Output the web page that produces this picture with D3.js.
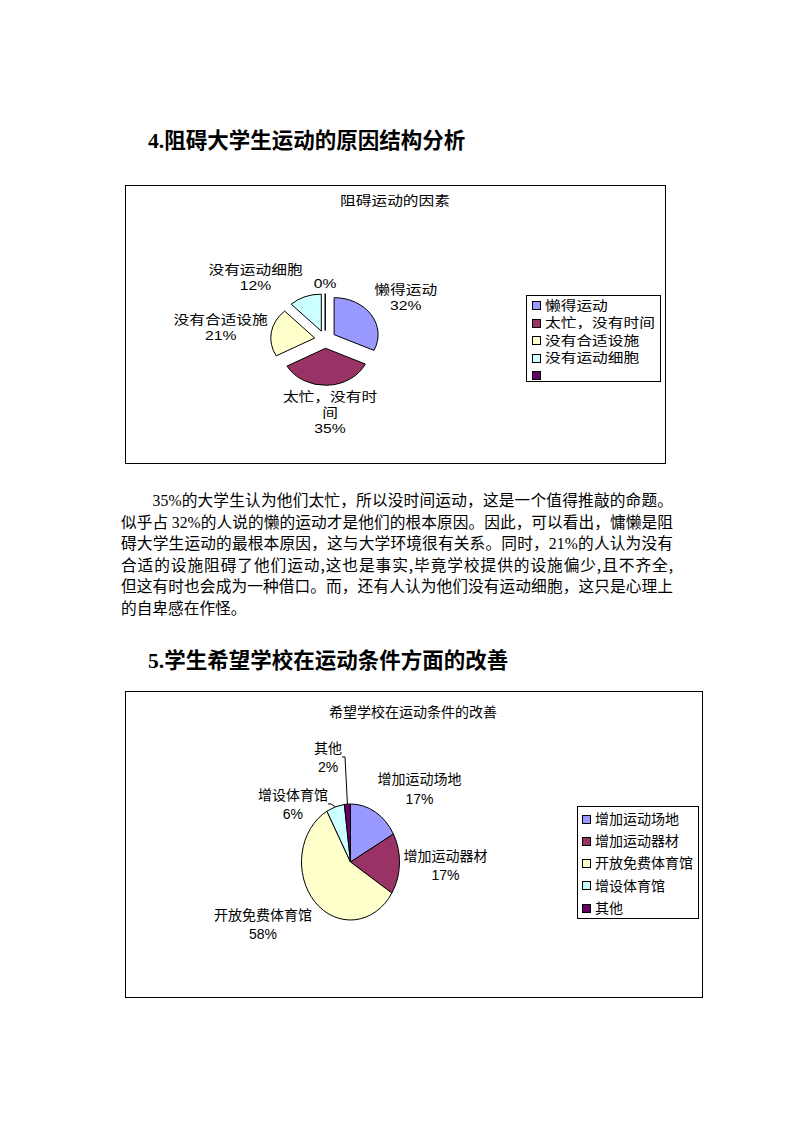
<!DOCTYPE html>
<html><head><meta charset="utf-8">
<script src="https://cdn.jsdelivr.net/npm/d3@7"></script>
<style>html,body{margin:0;padding:0;background:#fff}svg{display:block}</style>
</head><body>
<svg id="page" width="794" height="1123"></svg>
<script>
// ---------------- DATA ----------------
const heading4Num = "4.";
const heading4Text = "阻碍大学生运动的原因结构分析";
const heading5Num = "5.";
const heading5Text = "学生希望学校在运动条件方面的改善";

const paragraphLines = [
  "35%的大学生认为他们太忙，所以没时间运动，这是一个值得推敲的命题。",
  "似乎占 32%的人说的懒的运动才是他们的根本原因。因此，可以看出，慵懒是阻",
  "碍大学生运动的最根本原因，这与大学环境很有关系。同时，21%的人认为没有",
  "合适的设施阻碍了他们运动,这也是事实,毕竟学校提供的设施偏少,且不齐全,",
  "但这有时也会成为一种借口。而，还有人认为他们没有运动细胞，这只是心理上",
  "的自卑感在作怪。"
];

const chart1Title = "阻碍运动的因素";
const chart1Categories = ["懒得运动", "太忙，没有时间", "没有合适设施", "没有运动细胞", ""];
const chart1Values = [32, 35, 21, 12, 0];

const chart2Title = "希望学校在运动条件的改善";
const chart2Categories = ["增加运动场地", "增加运动器材", "开放免费体育馆", "增设体育馆", "其他"];
const chart2Values = [17, 17, 58, 6, 2];

const sliceColors = ["#9999FF", "#993366", "#FFFFCC", "#CCFFFF", "#660066"];

// ---------------- LAYOUT ----------------
const CJK = "'Noto Sans CJK SC','Noto Sans',sans-serif";
const CHART_FONT = "'Liberation Sans','Noto Sans CJK SC',sans-serif";
const SERIF = "'Liberation Serif','DejaVu Serif',serif";
const svg = d3.select("#page");

function heading(x, y, num, text) {
  const t = svg.append("text").attr("x", x).attr("y", y)
    .attr("font-size", 21.5).attr("font-weight", "bold").attr("fill", "#000");
  t.append("tspan").attr("font-family", SERIF).text(num);
  t.append("tspan").attr("font-family", CJK).text(text);
}
heading(148, 148, heading4Num, heading4Text);
heading(148, 668, heading5Num, heading5Text);

// paragraph
(function () {
  const fs = 15.7, left = 121, right = 673, y0 = 506, lh = 21.6;
  paragraphLines.forEach((line, i) => {
    const x = i === 0 ? left + 2 * fs : left;
    const t = svg.append("text").attr("x", x).attr("y", y0 + i * lh)
      .attr("font-size", fs).attr("fill", "#000");
    line.split(/(\d+%)/).filter(s => s).forEach(seg => {
      t.append("tspan").attr("font-family", /^\d+%$/.test(seg) ? SERIF : CJK).text(seg);
    });
    if (i < paragraphLines.length - 1) {
      const natural = t.node().getComputedTextLength();
      const n = Array.from(line).length;
      t.attr("letter-spacing", (right - x - natural) / (n - 1));
    }
  });
})();

function wrap(str, maxChars) {
  if (!str) return [];
  const chars = Array.from(str), out = [];
  for (let i = 0; i < chars.length; i += maxChars) out.push(chars.slice(i, i + maxChars).join(""));
  return out;
}

function drawPie(cfg) {
  const g = svg.append("g");
  const [bx0, by0, bx1, by1] = cfg.box;
  g.append("rect").attr("x", bx0 + 0.5).attr("y", by0 + 0.5)
    .attr("width", bx1 - bx0).attr("height", by1 - by0)
    .attr("fill", "#fff").attr("stroke", "#000").attr("stroke-width", 1);

  g.append("text").attr("transform", `translate(${cfg.titlePos[0]},${cfg.titlePos[1] + cfg.fs * 0.38}) scale(${cfg.textSX},1)`)
    .attr("text-anchor", "middle")
    .attr("font-family", CHART_FONT).attr("font-size", cfg.fs).attr("fill", "#000").text(cfg.title);

  const color = d3.scaleOrdinal().domain(d3.range(cfg.values.length)).range(sliceColors);
  const arcs = d3.pie().sort(null).value(d => d)(cfg.values);
  const R = 100;
  const arc = d3.arc().innerRadius(0).outerRadius(R);
  const total = d3.sum(cfg.values);

  const origins = arcs.map(p => {
    const mid = (p.startAngle + p.endAngle) / 2;
    return [cfg.cx + Math.sin(mid) * cfg.explode * cfg.rx, cfg.cy - Math.cos(mid) * cfg.explode * cfg.ry, mid];
  });

  arcs.forEach((p, i) => {
    const [ox, oy] = origins[i];
    g.append("path").attr("d", arc(p))
      .attr("transform", `translate(${ox},${oy}) scale(${cfg.rx / R},${cfg.ry / R})`)
      .attr("fill", color(i)).attr("stroke", "#000").attr("stroke-width", 1)
      .attr("vector-effect", "non-scaling-stroke");
  });

  // data labels (one text element per label, lines as tspans)
  arcs.forEach((p, i) => {
    const [ox, oy, mid] = origins[i];
    const pct = Math.round(p.value / total * 100) + "%";
    const lines = wrap(cfg.categories[i], cfg.maxChars).concat([pct]);
    const t = g.append("text").attr("text-anchor", "middle")
      .attr("font-family", CHART_FONT).attr("font-size", cfg.fs).attr("fill", "#000");
    const spans = lines.map((ln, j) => t.append("tspan").attr("x", 0)
      .attr("y", (j - (lines.length - 1) / 2) * cfg.lh + cfg.fs * 0.38).text(ln));
    const w = d3.max(spans, s => s.node().getComputedTextLength()) * cfg.textSX;
    const h = lines.length * cfg.lh;
    const s = Math.sin(mid), c = Math.cos(mid);
    const ax = ox + s * cfg.rx * (1 + cfg.gap), ay = oy - c * cfg.ry * (1 + cfg.gap);
    const fx = Math.max(-1, Math.min(1, s * 2)), fy = Math.max(-1, Math.min(1, c * 2));
    let lx = ax + fx * w / 2, ly = ay - fy * h / 2;
    const nd = cfg.nudge[i] || [0, 0];
    lx += nd[0]; ly += nd[1];
    t.attr("transform", `translate(${lx},${ly}) scale(${cfg.textSX},1)`);
    if (cfg.leader[i]) {
      const ex = ox + s * cfg.rx, ey = oy - c * cfg.ry;
      const side = lx < ex ? 1 : -1;
      const pts = [[ex, ey], [lx + side * (w / 2 + 3), ly], [lx + side * w / 2, ly]];
      g.append("path").attr("d", d3.line()(pts)).attr("fill", "none")
        .attr("stroke", "#000").attr("stroke-width", 1);
    }
  });

  // legend
  const L = cfg.legend;
  g.append("rect").attr("x", L.box[0] + 0.5).attr("y", L.box[1] + 0.5)
    .attr("width", L.box[2] - L.box[0]).attr("height", L.box[3] - L.box[1])
    .attr("fill", "#fff").attr("stroke", "#000").attr("stroke-width", 1);
  cfg.categories.forEach((cat, i) => {
    const y = L.y0 + i * L.dy;
    g.append("rect").attr("x", L.sx + 0.5).attr("y", Math.round(y - L.s / 2) + 0.5)
      .attr("width", L.s).attr("height", L.s)
      .attr("fill", color(i)).attr("stroke", "#000").attr("stroke-width", 1);
    g.append("text").attr("transform", `translate(${L.tx},${y + cfg.fs * 0.38}) scale(${cfg.textSX},1)`)
      .attr("font-family", CHART_FONT)
      .attr("font-size", cfg.fs).attr("fill", "#000").text(cat);
  });
}

drawPie({
  box: [125, 185, 665, 463],
  title: chart1Title, titlePos: [395, 200],
  categories: chart1Categories, values: chart1Values,
  cx: 325.2, cy: 339.4, rx: 44, ry: 37, explode: 0.24,
  fs: 13, textSX: 1.21, lh: 16, gap: 0.08, maxChars: 6,
  nudge: [[0, 0], [0, 0], [0, 0], [-13.5, -1], [0, 0]],
  leader: [false, false, false, false, false],
  legend: { box: [526, 295, 660, 381], y0: 305, dy: 17.5, sx: 532, s: 8, tx: 545 }
});

drawPie({
  box: [125, 691, 702, 997],
  title: chart2Title, titlePos: [413, 712],
  categories: chart2Categories, values: chart2Values,
  cx: 350.5, cy: 862, rx: 49, ry: 58, explode: 0,
  fs: 14, textSX: 1, lh: 19.5, gap: 0.08, maxChars: 8,
  nudge: [[0, 0], [0, 0], [0, 0], [-19.6, 21], [-17.4, -23]],
  leader: [false, false, false, true, true],
  legend: { box: [577, 806, 698, 918], y0: 818.5, dy: 22.3, sx: 582, s: 8, tx: 595 }
});
</script>
</body></html>
